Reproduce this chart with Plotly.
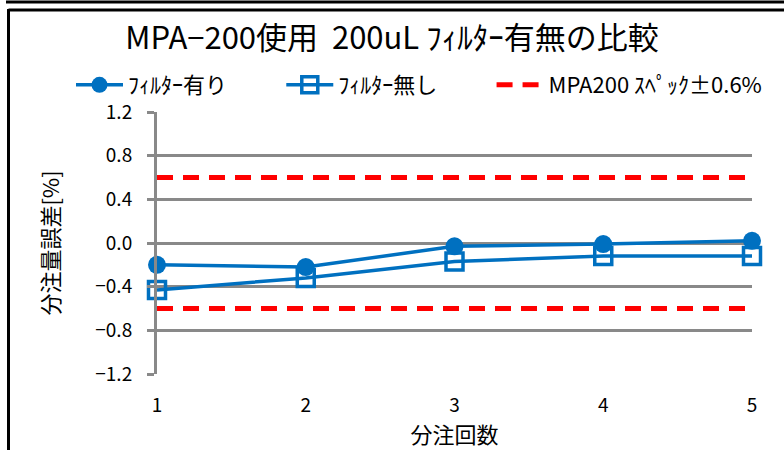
import plotly.graph_objects as go

# ---- data ----
runs = [1, 2, 3, 4, 5]
with_filter = [-0.20, -0.22, -0.03, -0.01, 0.02]
without_filter = [-0.43, -0.32, -0.17, -0.12, -0.12]
spec_upper = [0.6, 0.6, 0.6, 0.6, 0.6]
spec_lower = [-0.6, -0.6, -0.6, -0.6, -0.6]
y_ticks = [-1.2, -0.8, -0.4, 0.0, 0.4, 0.8, 1.2]
y_tick_text = ["\u22121.2", "\u22120.8", "\u22120.4", "0.0", "0.4", "0.8", "1.2"]

title_text = "MPA\u2212200使用  200uL ﾌｨﾙﾀｰ有無の比較"
name_with = "ﾌｨﾙﾀｰ有り"
name_without = "ﾌｨﾙﾀｰ無し"
name_spec = "MPA200 ｽﾍﾟｯｸ±0.6%"
x_title = "分注回数"
y_title = "分注量誤差[%]"

W, H = 784, 450
L, R, T, B = 157, 32, 112, 76
pw, ph = W - L - R, H - T - B

def px_x(p):
    return (p - L) / pw

def px_y(p):
    return 1 - (p - T) / ph

BLUE = "#0070C0"
RED = "#FF0000"
GRID = "#898989"
FONT = "Noto Sans CJK JP"
PAD = "\u00a0" * 10  # spacing between legend entries

fig = go.Figure()
fig.add_trace(go.Scatter(x=runs, y=with_filter, name=name_with + PAD, mode="lines+markers",
                         cliponaxis=False,
                         line=dict(color=BLUE, width=3.5),
                         marker=dict(symbol="circle", size=18, color=BLUE)))
fig.add_trace(go.Scatter(x=runs, y=without_filter, name=name_without + PAD, mode="lines+markers",
                         cliponaxis=False,
                         line=dict(color=BLUE, width=3.5),
                         marker=dict(symbol="square-open", size=17, color=BLUE,
                                     line=dict(width=3.5, color=BLUE))))
fig.add_trace(go.Scatter(x=runs, y=spec_upper, name=name_spec, mode="lines",
                         line=dict(color=RED, width=5, dash="16px,10px")))
fig.add_trace(go.Scatter(x=runs, y=spec_lower, name=name_spec, mode="lines", showlegend=False,
                         line=dict(color=RED, width=5, dash="16px,10px")))

shapes = [
    # bottom edge of the box above
    dict(type="line", xref="paper", yref="paper", x0=px_x(6), x1=px_x(800),
         y0=px_y(2), y1=px_y(2), line=dict(color="black", width=3)),
    # chart box top and left edge
    dict(type="line", xref="paper", yref="paper", x0=px_x(8.5), x1=px_x(800),
         y0=px_y(10), y1=px_y(10), line=dict(color="black", width=3)),
    dict(type="line", xref="paper", yref="paper", x0=px_x(8.5), x1=px_x(8.5),
         y0=px_y(9), y1=px_y(460), line=dict(color="black", width=3)),
]

fig.update_layout(
    width=W, height=H,
    margin=dict(l=L, r=R, t=T, b=B),
    paper_bgcolor="white", plot_bgcolor="white",
    font=dict(family=FONT, color="black", size=19),
    title=dict(text=title_text, x=0.5, xanchor="center", y=1 - 38.5 / H, yanchor="middle",
               font=dict(size=31, family=FONT, color="black")),
    legend=dict(orientation="h", x=px_x(71), xanchor="left", y=px_y(85), yanchor="middle",
                font=dict(size=22, family=FONT), bgcolor="rgba(0,0,0,0)",
                itemwidth=47, tracegroupgap=0),
    shapes=shapes,
    showlegend=True,
)
fig.update_xaxes(range=[1, 5], tickvals=runs, showgrid=False, zeroline=False,
                 showline=False, ticks="", tickfont=dict(size=19),
                 ticklabelstandoff=18,
                 title=dict(text=x_title, font=dict(size=22), standoff=0))
fig.update_yaxes(range=[-1.2, 1.2], tickvals=y_ticks, ticktext=y_tick_text,
                 showgrid=True, gridcolor=GRID, gridwidth=3, zeroline=False,
                 showline=True, linecolor=GRID, linewidth=3,
                 ticks="outside", ticklen=7, tickwidth=3, tickcolor=GRID,
                 ticklabelstandoff=11, tickfont=dict(size=19),
                 title=dict(text=y_title, font=dict(size=22), standoff=30))

fig.write_html("out.html", config={"displayModeBar": False},
               post_script="document.body.style.margin='0';")
